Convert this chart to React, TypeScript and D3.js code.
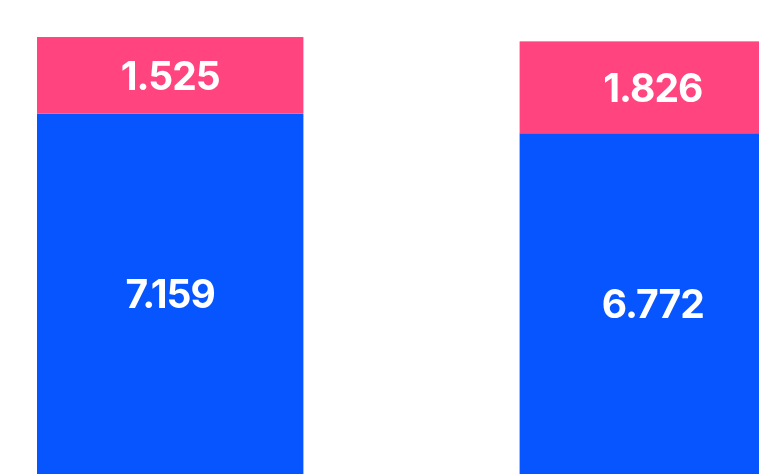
import * as d3 from 'd3';
import { useEffect, useRef } from 'react';

// two stacked bars, values as labelled in the chart
const categories = ['A', 'B'];
const seriesKeys = ['base', 'top'];
const baseValues = [7.159, 6.772];
const topValues = [1.525, 1.826];
const colors = ['#0655ff', '#ff4480'];

const width = 759;
const height = 474;

export default function App() {
    const ref = useRef<SVGSVGElement>(null);

    useEffect(() => {
        drawChart();
    }, []);

    function drawChart() {
        const svg = d3.select(ref.current);
        svg.selectAll('*').remove();

        const rows = categories.map((c, i) => ({ cat: c, base: baseValues[i], top: topValues[i] }));
        const stacked = d3.stack<any>().keys(seriesKeys)(rows);

        // band spans beyond the right edge, the second bar is cut off
        const x = d3.scaleBand()
            .domain(categories)
            .range([37, 786])
            .paddingInner(0.448)
            .paddingOuter(0);

        const y = d3.scaleLinear()
            .domain([0, 9.42])
            .range([height, 0]);

        const fmt = d3.format('.3f');

        const layers = svg.selectAll('g.layer')
            .data(stacked)
            .enter()
            .append('g')
            .attr('class', 'layer')
            .attr('fill', (d, i) => colors[i]);

        layers.selectAll('rect')
            .data(d => d)
            .enter()
            .append('rect')
            .attr('x', (d: any) => x(d.data.cat) as number)
            .attr('y', d => y(d[1]))
            .attr('width', x.bandwidth())
            .attr('height', d => y(d[0]) - y(d[1]));

        layers.selectAll('text')
            .data(d => d.map(p => ({ p, key: d.key })))
            .enter()
            .append('text')
            .attr('x', (d: any) => (x(d.p.data.cat) as number) + x.bandwidth() / 2)
            .attr('y', (d: any) => (y(d.p[0]) + y(d.p[1])) / 2)
            .attr('text-anchor', 'middle')
            .attr('dominant-baseline', 'central')
            .attr('fill', '#fff')
            .style('font-family', 'Inter, Roboto, sans-serif')
            .style('font-weight', 700)
            .style('font-size', '39px')
            .style('letter-spacing', '-1px')
            .text((d: any) => fmt(d.p.data[d.key]));
    }

    return (
        <svg
            ref={ref}
            width={width}
            height={height}
            style={{ position: 'fixed', left: 0, top: 0, display: 'block' }}
        />
    );
}
